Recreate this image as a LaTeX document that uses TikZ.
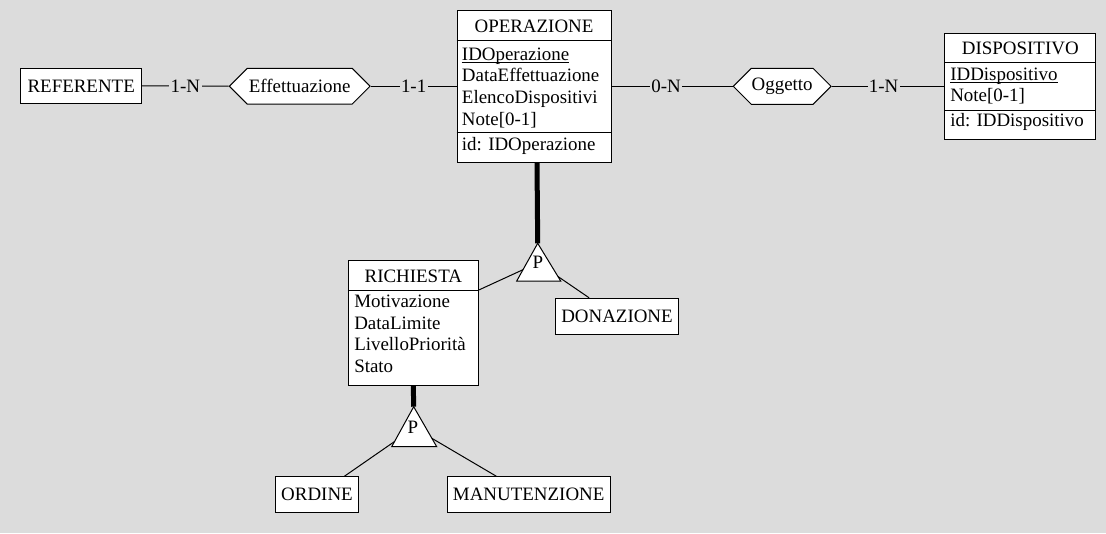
\documentclass[tikz,border=0pt]{standalone}
\usepackage{fontspec}
\setmainfont{Liberation Serif}
\usetikzlibrary{shapes.symbols,calc}
\definecolor{bgc}{RGB}{220,220,220}
\begin{document}
\begin{tikzpicture}[x=0.75pt,y=-0.75pt,
  every node/.style={font=\fontsize{14.2pt}{16pt}\selectfont},
  ent/.style={draw, fill=white, line width=0.75pt, inner sep=0pt},
  txt/.style={inner sep=0pt, anchor=base west},
  ttl/.style={inner sep=0pt, anchor=base},
  rel/.style={signal, signal to=west and east, draw, fill=white, line width=0.75pt, inner sep=0pt},
  card/.style={fill=bgc, inner xsep=1pt, inner ysep=1pt},
  lnk/.style={line width=0.75pt},
  uln/.style={line width=0.75pt},
  isa/.style={line width=3.75pt},
  gen/.style={line width=0.75pt, fill=white}]
\fill[bgc] (0,0) rectangle (1106,533);
\useasboundingbox (0,0) rectangle (1106,533);

% entities
\node[ent, minimum width=115.5pt, minimum height=114pt] (op) at (534,86) {};
\node[ent, minimum width=113pt, minimum height=79.3pt] (disp) at (1020.3,86.2) {};
\node[ent, minimum width=97.5pt, minimum height=93.2pt] (ric) at (413.3,322.9) {};
\node[ent, minimum width=90.8pt, minimum height=26.3pt] (ref) at (81.2,85.8) {REFERENTE};
\node[ent, minimum width=92pt, minimum height=26.8pt] (don) at (617,316.2) {DONAZIONE};
\node[ent, minimum width=62pt, minimum height=26.7pt] (ord) at (317,494.5) {ORDINE};
\node[ent, minimum width=122pt, minimum height=26.7pt] (man) at (528.7,494.5) {MANUTENZIONE};

% OPERAZIONE contents
\draw[lnk] (op.west |- 0,40.7) -- (op.east |- 0,40.7);
\draw[lnk] (op.west |- 0,132.3) -- (op.east |- 0,132.3);
\node[ttl] (opt) at (534,32.3) {OPERAZIONE};
\node[txt] (opa1) at (461.7,60) {IDOperazione};
\draw[uln] ($(opa1.base west)+(0,2)$) -- ($(opa1.base east)+(0,2)$);
\node[txt] (opa2) at (461.7,81.7) {DataEffettuazione};
\node[txt] (opa3) at (461.7,103.4) {ElencoDispositivi};
\node[txt] (opa4) at (461.7,125) {Note[0-1]};
\node[txt] (opid) at (461.7,150) {id: IDOperazione};

% DISPOSITIVO contents
\draw[lnk] (disp.west |- 0,62.3) -- (disp.east |- 0,62.3);
\draw[lnk] (disp.west |- 0,110) -- (disp.east |- 0,110);
\node[ttl] (dist) at (1020.3,54.3) {DISPOSITIVO};
\node[txt] (disa1) at (950,80) {IDDispositivo};
\draw[uln] ($(disa1.base west)+(0,2)$) -- ($(disa1.base east)+(0,2)$);
\node[txt] (disa2) at (950,101.7) {Note[0-1]};
\node[txt] (disid) at (950,126.7) {id: IDDispositivo};

% RICHIESTA contents
\draw[lnk] (ric.west |- 0,290) -- (ric.east |- 0,290);
\node[ttl] (rict) at (413.3,282.3) {RICHIESTA};
\node[txt] (rica1) at (354,307.3) {Motivazione};
\node[txt] (rica2) at (354,329) {DataLimite};
\node[txt] (rica3) at (354,350.7) {LivelloPriorità};
\node[txt] (rica4) at (354,372.4) {Stato};

% relationships
\node[rel, minimum width=105.5pt, minimum height=26.8pt] (eff) at (299.7,86.2) {Effettuazione};
\node[rel, minimum width=73.3pt, minimum height=27pt] (ogg) at (782.2,86.3) {Oggetto};

\draw[lnk] (ref.east) -- node[card] (c1) {1-N} (eff.west);
\draw[lnk] (eff.east) -- node[card] (c2) {1-1} (eff.east -| op.west);
\draw[lnk] (ogg.west -| op.east) -- node[card, pos=0.45] (c3) {0-N} (ogg.west);
\draw[lnk] (ogg.east) -- node[card, pos=0.46] (c4) {1-N} (ogg.east -| disp.west);

% generalization 1
\coordinate (t1a) at (537.7,243.3);
\coordinate (t1r) at (560.7,281);
\coordinate (t1l) at (516.7,281);
\draw[isa] ($(op.south)+(3,0)$) -- (t1a);
\draw[gen] (t1a) -- (t1r) -- (t1l) -- cycle;
\node[inner sep=0pt] (p1) at (538,262) {P};
\draw[lnk] ($(t1a)!0.7!(t1l)$) -- (ric.east |- 0,290);
\draw[lnk] ($(t1a)!0.88!(t1r)$) -- ($(don.north west)+(34,0)$);

% generalization 2
\coordinate (t2a) at (413.7,406.7);
\coordinate (t2r) at (436.7,446.7);
\coordinate (t2l) at (391.7,446.7);
\draw[isa] (ric.south) -- (t2a);
\draw[gen] (t2a) -- (t2r) -- (t2l) -- cycle;
\node[inner sep=0pt] (p2) at (412.8,427) {P};
\draw[lnk] ($(t2a)!0.87!(t2l)$) -- ($(ord.north west)+(69.3,0)$);
\draw[lnk] ($(t2a)!0.79!(t2r)$) -- ($(man.north west)+(49.4,0)$);
\end{tikzpicture}
\end{document}
